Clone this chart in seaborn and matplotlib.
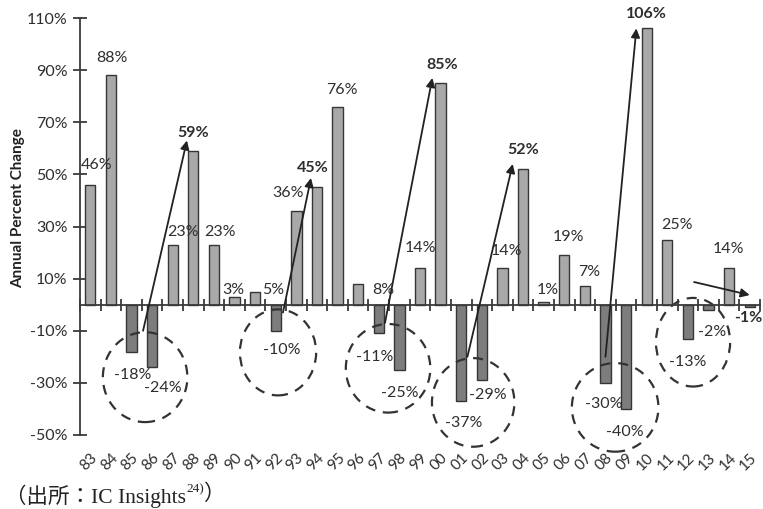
import matplotlib
matplotlib.use("Agg")
import matplotlib.pyplot as plt
from matplotlib.patches import Ellipse
import seaborn as sns
import pandas as pd

# Annual percent change of the semiconductor market, 1983-2015
years = ["83", "84", "85", "86", "87", "88", "89", "90", "91", "92", "93",
         "94", "95", "96", "97", "98", "99", "00", "01", "02", "03", "04",
         "05", "06", "07", "08", "09", "10", "11", "12", "13", "14", "15"]
change = [46, 88, -18, -24, 23, 59, 23, 3, 5, -10, 36,
          45, 76, 8, -11, -25, 14, 85, -37, -29, 14, 52,
          1, 19, 7, -30, -40, 106, 25, -13, -2, 14, -1]
# peak years after a downturn are printed in bold
bold_years = ["88", "94", "00", "04", "10", "15"]

y_ticks = [-50, -30, -10, 10, 30, 50, 70, 90, 110]

# value label placement (category index, y)
label_pos = {
    "83": (0.33, 53.6), "84": (1.05, 94.7), "85": (2.08, -27), "86": (3.53, -32),
    "87": (4.5, 27.8), "88": (4.99, 66), "89": (6.3, 27.8), "90": (6.93, 5.6),
    "91": (8.87, 5.6), "92": (9.3, -17.5), "93": (9.6, 42.7), "94": (10.81, 52.4),
    "95": (12.22, 82.4), "96": (14.2, 5.6), "97": (13.82, -20), "98": (15.0, -33.9),
    "99": (16.0, 21.6), "00": (17.07, 92), "01": (18.1, -45.4), "02": (19.3, -34.6),
    "03": (20.2, 20.5), "04": (21.0, 59.4), "05": (22.2, 5.6), "06": (23.2, 25.9),
    "07": (24.2, 12.5), "08": (24.9, -38.2), "09": (25.96, -48.9), "10": (27.0, 111.5),
    "11": (28.48, 30.6), "12": (29.0, -22), "13": (30.2, -10.5), "14": (30.95, 21.3),
    "15": (31.95, -5.2),
}

# recovery arrows: (start x, start y) -> (end x, end y)
arrows = [((2.56, -10), (4.69, 63)), ((9.35, -3), (10.71, 48.6)),
          ((14.3, -7), (16.6, 87)), ((18.3, -20), (20.5, 54)),
          ((25.0, -20), (26.5, 106)), ((29.3, 8.7), (32.0, 3.7))]

# dashed rings around downturns: (center x, center y, width, height)
rings = [(2.66, -27.8, 4.1, 34.5), (9.11, -18.3, 3.7, 33),
         (14.45, -24.4, 4.1, 34), (18.58, -37.5, 4.0, 34),
         (25.47, -39.4, 4.2, 34), (29.25, -14.4, 3.6, 34)]

sns.set_theme(style="white")
plt.rcParams["font.family"] = ["Lato", "DejaVu Sans"]
text_color = "#2e2e2e"
axis_color = "#3a3a3a"

df = pd.DataFrame({"year": years, "change": change,
                   "sign": ["up" if v >= 0 else "down" for v in change]})

fig = plt.figure(figsize=(7.63, 5.09), dpi=100)
ax = fig.add_axes([80 / 763, 1 - 435 / 509, (760 - 80) / 763, (435 - 18) / 509])

sns.barplot(data=df, x="year", y="change", hue="sign", order=years,
            palette={"up": "#a9a9a9", "down": "#7d7d7d"}, dodge=False,
            width=0.5, edgecolor="#363636", linewidth=1.0, legend=False, ax=ax)

ax.set_xlim(-0.5, len(years) - 0.5)
ax.set_ylim(-50, 110)
ax.set_yticks(y_ticks)
ax.set_yticklabels([f"{t}%" for t in y_ticks], fontsize=11.5, color=text_color)
ax.set_xlabel("")
ax.set_ylabel("")

for s in ["top", "right"]:
    ax.spines[s].set_visible(False)
ax.spines["left"].set_color(axis_color)
ax.spines["left"].set_linewidth(1.3)
ax.spines["bottom"].set_position(("data", 0))
ax.spines["bottom"].set_color(axis_color)
ax.spines["bottom"].set_linewidth(1.3)

ax.tick_params(axis="y", direction="inout", length=10, width=1.3, color=axis_color,
               pad=4, left=True)

# tick marks sit on the category boundaries along the zero line,
# year labels hang below the plot on unmarked ticks at the bar centres
ax.set_xticks([i - 0.5 for i in range(len(years) + 1)])
ax.set_xticklabels([""] * (len(years) + 1))
ax.tick_params(axis="x", which="major", direction="inout", length=8, width=1.3,
               color=axis_color, bottom=True)
ax.set_xticks(range(len(years)), minor=True)
ax.set_xticklabels(years, minor=True, rotation=45, ha="right", va="top",
                   rotation_mode="anchor", fontsize=11, color=text_color)
ax.tick_params(axis="x", which="minor", length=0, pad=105, bottom=True)

for yr, v in zip(years, change):
    x, y = label_pos[yr]
    ax.text(x, y, f"{v}%", ha="center", va="center", fontsize=11.5, color=text_color,
            fontweight="bold" if yr in bold_years else "normal", clip_on=False)

for (x0, y0), (x1, y1) in arrows:
    ax.annotate("", xy=(x1, y1), xytext=(x0, y0),
                arrowprops=dict(arrowstyle="-|>", color="#222222", lw=1.3,
                                mutation_scale=13, shrinkA=0, shrinkB=0),
                annotation_clip=False)

for cx, cy, w, h in rings:
    ax.add_patch(Ellipse((cx, cy), w, h, fill=False, edgecolor="#333333",
                         lw=1.6, linestyle=(0, (4.5, 3.5)), clip_on=False))

fig.text(18 / 763, 1 - 208 / 509, "Annual Percent Change", rotation=90,
         ha="center", va="center", fontsize=11, fontweight="bold", color="#222222")

# source note
cap_font = ["Liberation Serif", "Noto Sans CJK JP"]
t1 = fig.text(5 / 763, 1 - 503 / 509, "（出所：IC Insights", family=cap_font,
              fontsize=15.5, color="#222222", ha="left", va="baseline")
t2 = ax.annotate("24)", xy=(1, 0.8), xycoords=t1, fontsize=9.5, family=cap_font,
                 color="#222222", ha="left", va="center", annotation_clip=False)
ax.annotate("）", xy=(1, 0.5), xycoords=t2, xytext=(0, -4), textcoords="offset points",
            fontsize=15.5, family=cap_font, color="#222222", ha="left", va="center",
            annotation_clip=False)

fig.savefig("out.png", dpi=100, facecolor="white")
